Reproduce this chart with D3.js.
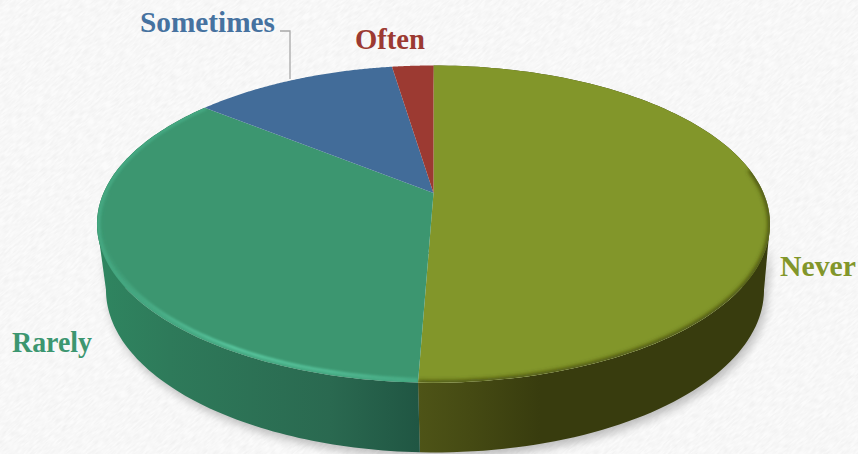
<!DOCTYPE html>
<html><head><meta charset="utf-8">
<script src="https://cdnjs.cloudflare.com/ajax/libs/d3/7.8.5/d3.min.js"></script>
<style>html,body{margin:0;padding:0;background:#fafafa;overflow:hidden}svg{display:block}</style>
</head><body><svg id="c" width="858" height="454"></svg>
<script>
const categories = ["Never", "Rarely", "Sometimes", "Often"];
const values = [50.6, 35.2, 11.8, 2.4];

const palette = ["#82962a", "#3c9670", "#426c99", "#9c3a32"];
const labelColours = ["#82962a", "#3c9670", "#4672a0", "#9c3a32"];
const labelAnchors = [[780, 276], [12, 352], [140, 32], [355, 49]];
const labelWidths = [76, 80, 135, 70];

const W = 858, H = 454;
const svg = d3.select("#c");
const defs = svg.append("defs");

// perspective pie geometry
const cx = 433.5, cy = 193, A = 330, B = 152.5, p = 0.196;
const lowerDx = 1.5, lowerY = 258, lowerKx = 0.9777, lowerKy = 1.025;
function project(a, r = 1, lower = false) {
  const u = r * Math.sin(a), v = r * Math.cos(a), w = 1 + p * v;
  return lower
    ? [cx + lowerDx + lowerKx * A * u / w, lowerY - lowerKy * B * v / w]
    : [cx + A * u / w, cy - B * v / w];
}
const line = d3.line();
const arcPts = (a0, a1, r = 1, lower = false) =>
  d3.range(0, 121).map(i => project(a0 + (a1 - a0) * i / 120, r, lower));

const pie = d3.pie().sort(null).startAngle(0).endAngle(2 * Math.PI);
const slices = pie(values);

// filters
const blur = (id, s) => defs.append("filter").attr("id", id)
  .attr("x", "-20%").attr("y", "-20%").attr("width", "140%").attr("height", "140%")
  .append("feGaussianBlur").attr("stdDeviation", s);
blur("b1", 1.3); blur("b2", 2); blur("b5", 5);

const tex = defs.append("filter").attr("id", "paper")
  .attr("x", 0).attr("y", 0).attr("width", "100%").attr("height", "100%");
tex.append("feTurbulence").attr("type", "fractalNoise").attr("baseFrequency", "0.12 0.55")
  .attr("numOctaves", 2).attr("seed", 4);
tex.append("feColorMatrix").attr("type", "matrix")
  .attr("values", "0 0 0 0 0.5  0 0 0 0 0.5  0 0 0 0 0.5  0.3 0 0 0 -0.09");

// background
svg.append("rect").attr("width", W).attr("height", H).attr("fill", "#fbfbfb");
svg.append("rect").attr("x", -300).attr("y", -300).attr("width", W + 600).attr("height", H + 600)
  .attr("filter", "url(#paper)").attr("transform", `rotate(-40 ${W / 2} ${H / 2})`);

// gradients for the side wall
const wallStops = [
  [[418, "#4e5417"], [470, "#454a13"], [540, "#383c0e"], [770, "#383c0e"]],
  [[100, "#2f8560"], [170, "#2e7a5a"], [330, "#2a6950"], [418, "#205643"]]
];
const gxScale = d3.scaleLinear().domain([97, 770]).range([0, 1]);
function wallFill(i) {
  const id = "wall" + i;
  const g = defs.append("linearGradient").attr("id", id).attr("gradientUnits", "userSpaceOnUse")
    .attr("x1", 97).attr("x2", 770).attr("y1", 0).attr("y2", 0);
  wallStops[i].forEach(s => g.append("stop").attr("offset", gxScale(s[0])).attr("stop-color", s[1]));
  return `url(#${id})`;
}

// widest points of the rim: the extruded edge runs between them
const rightExt = Math.acos(-p), leftExt = 2 * Math.PI - rightExt;
const hull = arcPts(rightExt, leftExt).concat(arcPts(rightExt, leftExt, 1, true).reverse());

// drop shadow under the pie
svg.append("path")
  .attr("d", line(hull) + "Z")
  .attr("transform", "translate(3,5)")
  .attr("fill", "#000").attr("opacity", 0.24).attr("filter", "url(#b5)");

// side walls, including the short tangent edge on each side
const wallG = svg.append("g");
wallG.selectAll("path.w").data(slices.slice(0, 2)).join("path").attr("class", "w")
  .attr("d", d => line(arcPts(d.startAngle, d.endAngle).concat(arcPts(d.startAngle, d.endAngle, 1, true).reverse())) + "Z")
  .attr("fill", d => wallFill(d.index));
[[rightExt, 0], [leftExt, 1]].forEach(([a, i]) => {
  wallG.append("path")
    .attr("d", line([project(a), project(a, 1, true), [cx, cy + 60]]) + "Z")
    .attr("fill", `url(#wall${i})`);
});

// top faces
const wedge = d => line([[cx, cy]].concat(arcPts(d.startAngle, d.endAngle))) + "Z";
svg.append("g").selectAll("path").data(slices).join("path")
  .attr("d", wedge).attr("fill", (d, i) => palette[i]);

// bevel along the rim
defs.append("clipPath").attr("id", "topClip").append("path").attr("d", line(arcPts(0, 2 * Math.PI)) + "Z");
const rimG = svg.append("g").attr("clip-path", "url(#topClip)");
const never = slices[0], rarely = slices[1];
const clipFor = (d, id) => defs.append("clipPath").attr("id", id).append("path").attr("d", wedge(d));
clipFor(never, "cN"); clipFor(rarely, "cR");

// light lip that fades out toward both ends of the front edge
const lipGrad = defs.append("linearGradient").attr("id", "lipFade").attr("gradientUnits", "userSpaceOnUse")
  .attr("x1", 100).attr("x2", 420).attr("y1", 0).attr("y2", 0);
[[0, 0], [0.22, 0.55], [0.42, 1], [0.72, 0.75], [1, 0.25]].forEach(s =>
  lipGrad.append("stop").attr("offset", s[0]).attr("stop-color", "#5ac9a1").attr("stop-opacity", s[1]));

const lipR = rimG.append("g").attr("clip-path", "url(#cR)");
lipR.append("path")
  .attr("d", line(arcPts(rarely.startAngle, rarely.endAngle, 0.995)))
  .attr("fill", "none").attr("stroke", "#4bb48d").attr("stroke-width", 4).attr("stroke-opacity", 0.6).attr("filter", "url(#b1)");
lipR.append("path")
  .attr("d", line(arcPts(rarely.startAngle, Math.PI * 1.5, 0.985)))
  .attr("fill", "none").attr("stroke", "url(#lipFade)").attr("stroke-width", 2.8).attr("filter", "url(#b1)");
rimG.append("g").attr("clip-path", "url(#cN)").append("path")
  .attr("d", line(arcPts(Math.PI * 0.45, never.endAngle, 1.0)))
  .attr("fill", "none").attr("stroke", "#3f4410").attr("stroke-width", 4).attr("filter", "url(#b2)");

// leader line for the smaller label
const leader = d3.path();
const lx = 290;
leader.moveTo(280, 31); leader.lineTo(lx, 31); leader.lineTo(lx, 79);
svg.append("path").attr("d", leader.toString()).attr("fill", "none")
  .attr("stroke", "#a8a8a8").attr("stroke-width", 1.3);

// labels
svg.append("g").selectAll("text").data(categories).join("text")
  .attr("x", (d, i) => labelAnchors[i][0]).attr("y", (d, i) => labelAnchors[i][1])
  .attr("fill", (d, i) => labelColours[i])
  .attr("font-family", "'Liberation Serif', serif").attr("font-weight", 700).attr("font-size", 28.5)
  .attr("textLength", (d, i) => labelWidths[i]).attr("lengthAdjust", "spacingAndGlyphs")
  .text(d => d);
</script></body></html>
